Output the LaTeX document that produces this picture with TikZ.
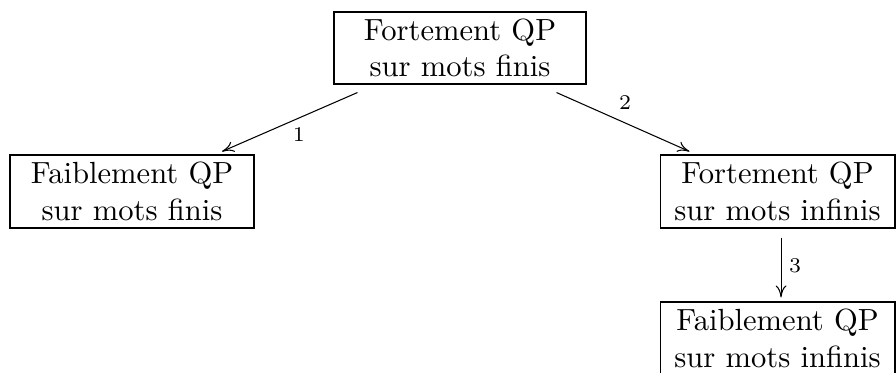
\documentclass[tikz,border=0pt]{standalone}
\usetikzlibrary{arrows.meta}
\begin{document}
\begin{tikzpicture}[x=1pt,y=1pt,
  boxnode/.style={draw, align=center, inner sep=0pt, minimum height=24.33pt, line width=0.35pt, font=\fontsize{10.2}{12.2}\selectfont},
  conn/.style={-{To[length=4pt,width=3.6pt]}, line width=0.35pt},
  lbl/.style={font=\scriptsize, midway, inner sep=0pt}]
\useasboundingbox (0,0) rectangle (298.67,124);
\node[boxnode, minimum width=84pt, minimum height=24pt] (top) at (153.33,108) {Fortement QP\\sur mots finis};
\node[boxnode, minimum width=81.33pt] (left) at (44,60.17) {Faiblement QP\\sur mots finis};
\node[boxnode, minimum width=78.33pt] (right) at (259.17,60.17) {Fortement QP\\sur mots infinis};
\node[boxnode, minimum width=78.33pt] (bottom) at (259.17,11.17) {Faiblement QP\\sur mots infinis};
\draw[conn] ([xshift=8pt,yshift=-2.67pt]top.south west) -- node[lbl, xshift=3pt, yshift=-4.33pt] {1} ([xshift=30pt,yshift=1pt]left.north);
\draw[conn] ([xshift=-10pt,yshift=-2.67pt]top.south east) -- node[lbl, xshift=0.67pt, yshift=6.33pt] {2} ([xshift=10pt,yshift=1pt]right.north west);
\draw[conn] ([xshift=1.17pt,yshift=-3pt]right.south) -- node[lbl, xshift=4.67pt, yshift=0.5pt] {3} ([xshift=1.17pt,yshift=1.33pt]bottom.north);
\end{tikzpicture}
\end{document}
